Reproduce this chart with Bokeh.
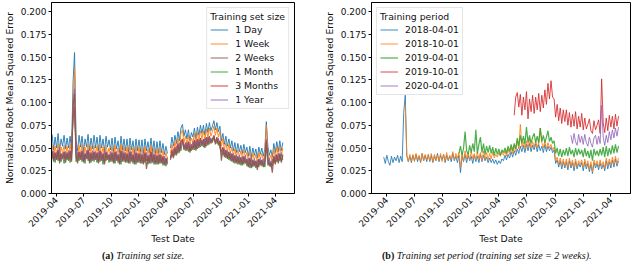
import math
import pandas as pd
from bokeh.plotting import figure
from bokeh.layouts import row, column
from bokeh.models import (Range1d, FixedTicker, DatetimeTickFormatter, PrintfTickFormatter,
                          Legend, LegendItem, Div)
from bokeh.embed import file_html
from bokeh.resources import INLINE

nan = float("nan")

# ---------------- data (values in thousandths of NRMSE, one sample every 5 days) ----------
STEP_DAYS = 5
tick_dates = ["2019-04-01", "2019-07-01", "2019-10-01", "2020-01-01", "2020-04-01",
              "2020-07-01", "2020-10-01", "2021-01-01", "2021-04-01"]
y_ticks = [0.0, 0.025, 0.05, 0.075, 0.1, 0.125, 0.15, 0.175, 0.2]

# Panel (a): training set size
a_start = "2019-03-18"
a_labels = ["1 Day", "1 Week", "2 Weeks", "1 Month", "3 Months", "1 Year"]
a_1day = [65, 48, 62, 50, 66, 47, 60, 52, 64, 49,
          61, 50, 63, 48, 123, 155, 58, 47, 64, 51,
          63, 46, 60, 51, 65, 47, 61, 49, 64, 50,
          62, 47, 64, 50, 60, 46, 63, 51, 59, 48,
          61, 46, 62, 49, 58, 45, 63, 48, 60, 47,
          60, 45, 61, 48, 58, 44, 60, 47, 59, 46,
          59, 44, 60, 47, 57, 45, 61, 46, 58, 44,
          57, 44, 58, 45, 55, 43, 52, 44, nan, 50,
          62, 52, 64, 55, 68, 58, 72, 76, 63, 70,
          60, 70, 58, 67, 62, 72, 60, 73, 64, 75,
          66, 75, 64, 77, 67, 78, 69, 74, 80, 70,
          78, 68, 74, 58, 66, 54, 63, 52, 60, 50,
          58, 47, 56, 45, 55, 46, 53, 44, 54, 45,
          51, 41, 52, 40, 50, 42, 49, 39, 51, 43,
          50, 41, 49, 79, 52, 42, 48, 40, 55, 45,
          57, 46, 58, 47, 56]
a_1week = [54, 41, 52, 43, 55, 40, 51, 44, 53, 42,
           52, 42, 54, 41, 96, 138, 50, 40, 53, 43,
           54, 40, 51, 43, 55, 41, 52, 42, 53, 44,
           52, 40, 54, 42, 51, 39, 53, 43, 50, 41,
           52, 40, 53, 42, 50, 39, 54, 41, 52, 40,
           51, 39, 53, 41, 50, 38, 52, 40, 51, 39,
           50, 38, 52, 40, 49, 39, 53, 40, 50, 38,
           49, 38, 50, 39, 47, 37, 45, 38, nan, 44,
           54, 46, 57, 49, 61, 52, 66, 70, 56, 63,
           54, 64, 52, 61, 56, 66, 54, 67, 58, 69,
           60, 69, 58, 71, 61, 72, 63, 68, 74, 64,
           72, 62, 68, 52, 60, 48, 56, 46, 54, 44,
           51, 41, 49, 40, 48, 40, 47, 39, 48, 40,
           45, 36, 46, 35, 44, 37, 43, 34, 45, 38,
           44, 36, 43, 75, 46, 37, 42, 35, 49, 40,
           51, 41, 52, 42, 50]
a_2weeks = [46, 35, 44, 37, 47, 33, 43, 38, 45, 34,
            44, 36, 46, 35, 97, 110, 42, 33, 45, 37,
            46, 34, 43, 38, 47, 33, 44, 36, 45, 37,
            44, 33, 46, 36, 43, 32, 45, 37, 42, 35,
            44, 33, 45, 36, 42, 32, 46, 35, 44, 34,
            43, 33, 45, 35, 42, 32, 44, 34, 43, 33,
            42, 32, 44, 27, 41, 33, 45, 34, 42, 32,
            41, 32, 42, 33, 40, 31, 38, 32, nan, 37,
            46, 39, 49, 42, 53, 45, 56, 59, 48, 54,
            47, 55, 45, 52, 48, 57, 47, 58, 50, 60,
            52, 59, 50, 61, 53, 62, 55, 58, 63, 54,
            61, 53, 57, 36, 50, 40, 47, 38, 45, 36,
            43, 34, 41, 33, 40, 32, 39, 31, 40, 33,
            37, 29, 38, 28, 36, 30, 35, 26, 37, 31,
            36, 29, 35, 58, 38, 30, 34, 23, 40, 32,
            42, 33, 43, 34, 42]
a_1month = [38, 45, 34, 43, 36, 46, 35, 42, 33, 44,
            37, 45, 34, 44, 82, 92, 35, 44, 36, 43,
            35, 44, 33, 46, 36, 43, 34, 45, 35, 44,
            34, 44, 35, 43, 32, 45, 36, 42, 34, 44,
            35, 43, 33, 44, 34, 42, 32, 45, 35, 43,
            34, 42, 33, 44, 33, 43, 32, 42, 34, 43,
            33, 42, 34, 43, 32, 41, 33, 44, 32, 42,
            32, 41, 33, 40, 31, 39, 30, 38, nan, 40,
            40, 47, 42, 50, 44, 53, 47, 57, 52, 47,
            55, 46, 53, 47, 56, 48, 57, 49, 58, 51,
            58, 51, 60, 52, 61, 54, 60, 56, 62, 57,
            55, 60, 50, 44, 42, 48, 39, 46, 37, 44,
            35, 42, 33, 41, 32, 40, 31, 39, 32, 40,
            30, 37, 28, 38, 29, 36, 28, 35, 29, 37,
            30, 36, 29, 52, 31, 37, 29, 36, 33, 40,
            35, 42, 36, 43, 37]
a_3months = [47, 37, 45, 39, 48, 36, 44, 40, 46, 38,
             45, 38, 47, 37, 88, 95, 44, 36, 46, 39,
             47, 36, 44, 40, 48, 35, 45, 38, 46, 39,
             45, 35, 47, 38, 44, 34, 46, 39, 43, 37,
             45, 35, 46, 38, 43, 34, 47, 37, 45, 36,
             44, 35, 46, 37, 43, 34, 45, 36, 44, 35,
             43, 34, 45, 36, 42, 35, 46, 36, 43, 34,
             42, 34, 43, 35, 41, 33, 39, 34, nan, 39,
             48, 41, 51, 44, 55, 47, 58, 60, 50, 56,
             49, 57, 47, 54, 50, 59, 49, 60, 52, 61,
             54, 60, 52, 62, 55, 63, 57, 60, 64, 56,
             62, 55, 58, 46, 51, 42, 48, 40, 46, 38,
             44, 36, 42, 35, 41, 34, 40, 33, 41, 35,
             38, 31, 39, 30, 37, 32, 36, 29, 38, 33,
             37, 31, 36, 55, 39, 32, 35, 30, 41, 34,
             43, 35, 44, 36, 43]
a_1year = [40, 47, 37, 45, 39, 48, 36, 44, 38, 46,
           39, 47, 38, 45, 86, 115, 38, 46, 39, 45,
           37, 46, 36, 47, 38, 45, 36, 47, 37, 46,
           36, 46, 37, 45, 35, 47, 38, 44, 36, 46,
           37, 45, 35, 46, 36, 44, 35, 47, 37, 45,
           36, 44, 35, 46, 35, 45, 34, 44, 36, 45,
           35, 44, 36, 45, 34, 43, 35, 46, 34, 44,
           34, 43, 35, 42, 33, 41, 32, 40, nan, 42,
           42, 49, 44, 52, 46, 55, 49, 58, 53, 49,
           56, 48, 55, 49, 57, 50, 58, 51, 59, 53,
           59, 53, 61, 54, 62, 56, 61, 57, 63, 58,
           57, 61, 52, 46, 44, 49, 41, 47, 39, 45,
           37, 44, 35, 43, 34, 42, 33, 41, 34, 42,
           32, 39, 30, 40, 31, 38, 30, 37, 31, 39,
           32, 38, 31, 60, 33, 39, 31, 38, 35, 42,
           37, 44, 38, 45, 39]

# Panel (b): training period (training set size = 2 weeks)
b_labels = ["2018-04-01", "2018-10-01", "2019-04-01", "2019-10-01", "2020-04-01"]
b_starts = ["2019-03-23", "2019-06-01", "2019-11-23", "2020-05-21", "2020-11-22"]
b_2018_04 = [40, 33, 42, 35, 31, 41, 34, 40, 36,
             42, 34, 41, 35, 89, 108, 42, 35, 41, 34,
             42, 36, 43, 35, 41, 34, 44, 36, 42, 35,
             43, 35, 42, 34, 41, 36, 44, 35, 42, 37,
             43, 34, 42, 36, 41, 35, 44, 36, 41, 34,
             42, 23, 41, 35, 43, 34, 42, 36, 41, 33,
             42, 35, 41, 34, 43, 35, 42, 36, 40, 34,
             39, 34, 38, 33, 37, 32, 36, 33, 38, 36,
             42, 37, 43, 39, 46, 40, 47, 42, 49, 44,
             52, 46, 53, 45, 54, 47, 55, 46, 53, 48,
             55, 46, 54, 47, 52, 45, 54, 46, 52, 47,
             51, 45, 48, 33, 37, 29, 36, 27, 35, 28,
             35, 26, 36, 28, 34, 25, 35, 27, 33, 29,
             34, 25, 35, 27, 33, 24, 32, 22, 34, 28,
             33, 26, 34, 27, 32, 25, 36, 27, 35, 28,
             37, 29, 38, 30, 36]
b_2018_10 = [98, 42, 35, 43, 36,
             43, 35, 44, 37, 42, 35, 44, 36, 43, 37,
             42, 36, 44, 35, 43, 37, 42, 36, 44, 35,
             43, 36, 45, 37, 42, 38, 46, 37, 44, 39,
             45, 28, 44, 36, 47, 38, 45, 37, 46, 38,
             44, 37, 46, 38, 45, 36, 47, 38, 45, 37,
             44, 38, 46, 39, 43, 40, 45, 41, 46, 42,
             47, 41, 49, 43, 51, 44, 52, 46, 58, 49,
             76, 51, 57, 49, 58, 50, 60, 50, 57, 51,
             58, 50, 57, 72, 56, 50, 58, 49, 56, 50,
             54, 48, 51, 36, 40, 32, 39, 31, 38, 30,
             38, 29, 39, 31, 37, 28, 38, 30, 36, 32,
             37, 28, 38, 30, 36, 27, 35, 24, 37, 31,
             36, 29, 37, 30, 35, 28, 39, 30, 38, 31,
             40, 32, 41, 33, 39]
b_2019_04 = [44, 52, 42, 50, 68, 47, 43, 53, 45, 55,
             46, 70, 44, 54, 62, 45, 55, 43, 52, 45,
             53, 44, 51, 42, 50, 43, 49, 42, 48, 45,
             50, 44, 52, 46, 54, 47, 55, 49, 61, 52,
             64, 55, 63, 54, 73, 56, 64, 55, 62, 66,
             56, 63, 55, 72, 57, 64, 56, 62, 69, 57,
             62, 55, 58, 44, 50, 41, 49, 40, 48, 42,
             50, 41, 51, 43, 48, 40, 50, 42, 49, 43,
             48, 40, 50, 41, 47, 39, 48, 36, 49, 42,
             47, 41, 49, 42, 51, 40, 52, 41, 50, 43,
             53, 44, 54, 45, 52]
b_2019_10 = [86, 106, 111, 95,
             109, 86, 106, 92, 112, 82, 104, 90, 108, 88,
             106, 92, 110, 90, 108, 94, 114, 98, 121, 104,
             124, 106, 104, 84, 98, 80, 94, 77, 92, 79,
             92, 75, 89, 73, 87, 74, 90, 71, 85, 73,
             88, 70, 83, 71, 76, 82, 69, 66, 80, 70,
             75, 81, 66, 126, 78, 67, 83, 69, 86, 73,
             85, 71, 87, 74, 85]
b_2020_04 = [64, 55, 66, 57, 53, 65, 56,
             63, 54, 65, 56, 52, 62, 55, 51, 61, 64,
             54, 63, 55, 97, 62, 53, 64, 56, 68, 59,
             70, 61, 72, 63, 73]

cap_a = ("(a)", "Training set size.")
cap_b = ("(b)", "Training set period (training set size = 2 weeks).")

# ---------------- styling ----------------
FONT = "DejaVu Sans"
TICK_FS = "9px"
LABEL_FS = "9.3px"
LEG_FS = "9.3px"
TXT = "#111111"
tab_blue, tab_orange, tab_green = "#1f77b4", "#ff7f0e", "#2ca02c"
tab_red, tab_purple, tab_brown = "#d62728", "#9467bd", "#8c564b"


def dates_from(start, n):
    return pd.date_range(start=start, periods=n, freq=f"{STEP_DAYS}D")


def to_ms(d):
    return pd.Timestamp(d).value // 10**6


def style(p):
    p.xgrid.grid_line_color = None
    p.ygrid.grid_line_color = None
    p.outline_line_color = "black"
    p.outline_line_width = 1
    p.background_fill_color = "white"
    p.border_fill_color = "white"
    for ax in (p.xaxis[0], p.yaxis[0]):
        ax.axis_line_color = "black"
        ax.major_tick_line_color = "black"
        ax.major_tick_out = 3
        ax.major_tick_in = 0
        ax.minor_tick_line_color = None
        ax.major_label_text_font = FONT
        ax.major_label_text_font_size = TICK_FS
        ax.major_label_text_color = TXT
        ax.axis_label_text_font = FONT
        ax.axis_label_text_font_size = LABEL_FS
        ax.axis_label_text_font_style = "normal"
        ax.axis_label_text_color = TXT
        ax.major_label_standoff = 2
    p.yaxis.axis_label_standoff = 3
    p.xaxis.axis_label_standoff = 0
    p.xaxis.ticker = FixedTicker(ticks=[to_ms(d) for d in tick_dates])
    fmt = "%Y-%m"
    p.xaxis.formatter = DatetimeTickFormatter(
        microseconds=fmt, milliseconds=fmt, seconds=fmt, minsec=fmt, minutes=fmt,
        hourmin=fmt, hours=fmt, days=fmt, months=fmt, years=fmt)
    p.xaxis.major_label_orientation = math.pi / 4
    p.yaxis.ticker = FixedTicker(ticks=y_ticks)
    p.yaxis.formatter = PrintfTickFormatter(format="%.3f")
    p.xaxis.axis_label = "Test Date"
    p.yaxis.axis_label = "Normalized Root Mean Squared Error"


def make_legend(items, title, loc):
    lg = Legend(items=items, title=title, location=loc)
    lg.title_text_font = FONT
    lg.title_text_font_size = LEG_FS
    lg.title_text_font_style = "normal"
    lg.title_text_color = TXT
    lg.title_standoff = 2
    lg.label_text_font = FONT
    lg.label_text_font_size = LEG_FS
    lg.label_text_color = TXT
    lg.glyph_width = 18
    lg.glyph_height = 11
    lg.label_height = 11
    lg.label_standoff = 7
    lg.spacing = 3
    lg.padding = 3
    lg.margin = 5
    lg.border_line_color = "#cccccc"
    lg.border_line_width = 1
    lg.background_fill_alpha = 0.8
    return lg


def caption_div(cap, width, pad_left):
    html = (f"<div style=\"font-family:'Liberation Serif';font-size:10px;line-height:12px;"
            f"color:{TXT};padding-left:{pad_left}px;position:relative;top:0px;"
            f"white-space:nowrap\"><b>{cap[0]}</b> <i>{cap[1]}</i></div>")
    return Div(text=html, width=width, height=15, margin=0)


HEIGHT = 247
WA, WB = 298, 334
Y_RANGE = (0, 0.21)

# ---------------- panel (a) ----------------
pa = figure(width=WA, height=HEIGHT, x_axis_type="datetime", output_backend="svg",
            toolbar_location=None, tools="",
            x_range=Range1d(pd.Timestamp("2019-03-16"), pd.Timestamp("2021-06-04")),
            y_range=Range1d(*Y_RANGE),
            min_border_left=45, min_border_right=4, min_border_top=2, min_border_bottom=0)
style(pa)
a_series = [a_1day, a_1week, a_2weeks, a_1month, a_3months, a_1year]
a_colors = [tab_blue, tab_orange, tab_brown, tab_green, tab_red, tab_purple]
draw_order_a = [0, 1, 3, 4, 5, 2]
a_rend = {}
for i in draw_order_a:
    vals = [v / 1000 for v in a_series[i]]
    a_rend[i] = pa.line(dates_from(a_start, len(vals)), vals, line_color=a_colors[i],
                        line_width=1.2 if i == 2 else 1, line_alpha=0.9)
pa.add_layout(make_legend([LegendItem(label=a_labels[i], renderers=[a_rend[i]])
                           for i in range(6)], "Training set size", "top_right"))

# ---------------- panel (b) ----------------
pb = figure(width=WB, height=HEIGHT, x_axis_type="datetime", output_backend="svg",
            toolbar_location=None, tools="",
            x_range=Range1d(pd.Timestamp("2019-02-11"), pd.Timestamp("2021-06-04")),
            y_range=Range1d(*Y_RANGE),
            min_border_left=73, min_border_right=2, min_border_top=2, min_border_bottom=0)
style(pb)
b_series = [b_2018_04, b_2018_10, b_2019_04, b_2019_10, b_2020_04]
b_colors = [tab_blue, tab_orange, tab_green, tab_red, tab_purple]
b_rend = []
for i, s in enumerate(b_series):
    vals = [v / 1000 for v in s]
    b_rend.append(pb.line(dates_from(b_starts[i], len(vals)), vals, line_color=b_colors[i],
                          line_width=1.2 if i == 2 else 1, line_alpha=0.85))
pb.add_layout(make_legend([LegendItem(label=b_labels[i], renderers=[b_rend[i]])
                           for i in range(5)], "Training period", "top_left"))

layout = column(row(pa, pb), row(caption_div(cap_a, WA, 102), caption_div(cap_b, WB, 84)))
open("out.html", "w").write(file_html(layout, INLINE))
